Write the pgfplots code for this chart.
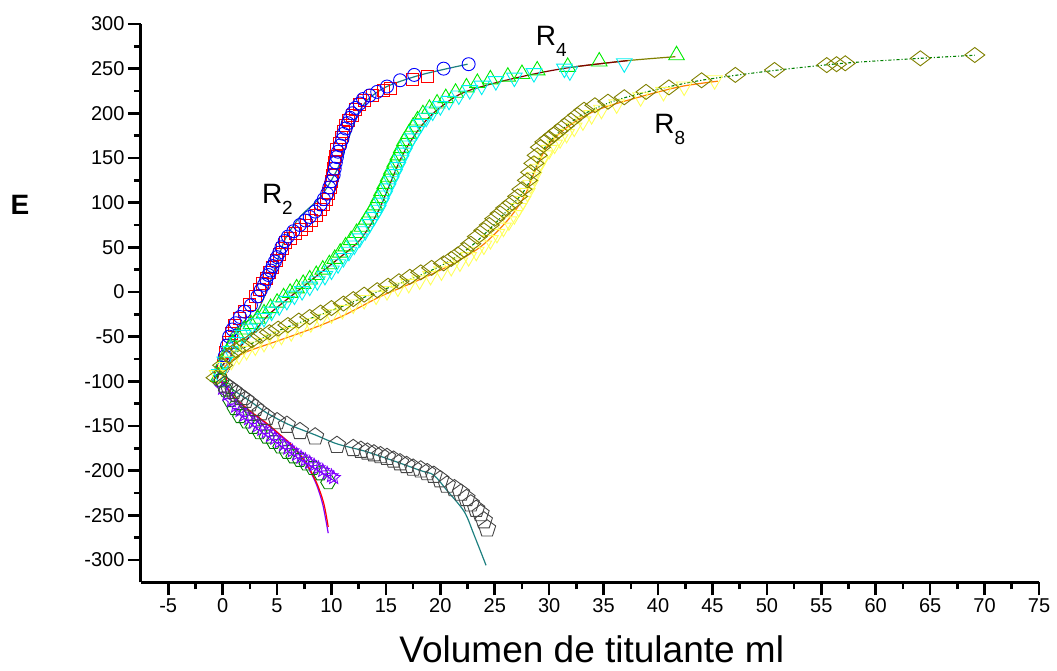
\documentclass[border=0pt]{standalone}
\usepackage{fontspec}
\setmainfont{Liberation Sans}
\usepackage{pgfplots}
\pgfplotsset{compat=1.18}
\usetikzlibrary{plotmarks}

\pgfdeclareplotmark{hexa}{%
  \pgfpathmoveto{\pgfpointpolar{0}{\pgfplotmarksize}}%
  \pgfpathlineto{\pgfpointpolar{60}{\pgfplotmarksize}}%
  \pgfpathlineto{\pgfpointpolar{120}{\pgfplotmarksize}}%
  \pgfpathlineto{\pgfpointpolar{180}{\pgfplotmarksize}}%
  \pgfpathlineto{\pgfpointpolar{240}{\pgfplotmarksize}}%
  \pgfpathlineto{\pgfpointpolar{300}{\pgfplotmarksize}}%
  \pgfpathclose\pgfusepathqstroke}
\pgfdeclareplotmark{ostar}{%
  \pgfpathmoveto{\pgfpointpolar{90}{\pgfplotmarksize}}%
  \pgfpathlineto{\pgfpointpolar{126}{0.45\pgfplotmarksize}}%
  \pgfpathlineto{\pgfpointpolar{162}{\pgfplotmarksize}}%
  \pgfpathlineto{\pgfpointpolar{198}{0.45\pgfplotmarksize}}%
  \pgfpathlineto{\pgfpointpolar{234}{\pgfplotmarksize}}%
  \pgfpathlineto{\pgfpointpolar{270}{0.45\pgfplotmarksize}}%
  \pgfpathlineto{\pgfpointpolar{306}{\pgfplotmarksize}}%
  \pgfpathlineto{\pgfpointpolar{342}{0.45\pgfplotmarksize}}%
  \pgfpathlineto{\pgfpointpolar{18}{\pgfplotmarksize}}%
  \pgfpathlineto{\pgfpointpolar{54}{0.45\pgfplotmarksize}}%
  \pgfpathclose\pgfusepathqstroke}

\definecolor{cRed}{RGB}{255,0,0}
\definecolor{cBlue}{RGB}{0,0,255}
\definecolor{cTeal}{RGB}{30,128,128}
\definecolor{cGreen}{RGB}{0,235,0}
\definecolor{cCyan}{RGB}{0,240,240}
\definecolor{cDRed}{RGB}{128,0,0}
\definecolor{cOlive}{RGB}{128,128,0}
\definecolor{cYellow}{RGB}{255,255,90}
\definecolor{cOrange}{RGB}{255,128,0}
\definecolor{cDGreen}{RGB}{0,128,0}
\definecolor{cPurple}{RGB}{128,0,255}
\definecolor{cGray}{RGB}{70,70,70}

\begin{document}
\begin{tikzpicture}
\useasboundingbox (-141pt,-88.7pt) rectangle (916pt,582.3pt);
\begin{axis}[
  scale only axis, width=898pt, height=558.3pt,
  at={(0,0)}, anchor=south west,
  xmin=-7.5, xmax=75, ymin=-325, ymax=300,
  axis x line*=bottom, axis y line*=left,
  xtick={-5,0,...,75}, ytick={-300,-250,...,300},
  minor x tick num=1, minor y tick num=1,
  tick align=outside,
  major tick length=13pt, minor tick length=7pt,
  axis line style={line width=3pt, black},
  every outer x axis line/.append style={line width=3pt},
  every outer y axis line/.append style={line width=3pt},
  xtick style={line width=2.6pt, black},
  ytick style={line width=2.6pt, black},
  /pgf/number format/assume math mode=true,
  xticklabel={\fontsize{20}{24}\selectfont\pgfmathprintnumber{\tick}},
  yticklabel={\fontsize{20}{24}\selectfont\pgfmathprintnumber{\tick}},
  clip=false,
  mark options={solid},
]
% ---------- R2 ----------
\addplot[only marks, color=cRed, mark=square, mark size=6pt, line width=0.9pt] coordinates {
(-0.2,-95) (0.1,-80) (0.3,-68) (0.5,-56) (0.8,-46) (1.1,-38) (1.5,-30) (2.0,-22) (2.5,-14) (3.0,-5)
(3.4,3) (3.7,9) (4.0,15) (4.3,22) (4.6,28) (4.9,35) (5.2,42) (5.5,49) (5.8,55) (6.2,60)
(6.7,65) (7.2,70) (7.7,75) (8.2,80) (8.6,86) (9.0,92) (9.3,98) (9.5,104) (9.7,110) (9.9,117)
(10.0,124) (10.1,131) (10.2,138) (10.3,145) (10.4,152) (10.5,159) (10.7,166) (10.9,173) (11.1,180) (11.3,186)
(11.6,192) (11.9,198) (12.2,204) (12.6,210) (13.0,214) (13.8,220) (14.8,226) (15.4,228) (17.4,238) (18.8,241)
};
\addplot[only marks, color=cBlue, mark=o, mark size=6.5pt, line width=0.9pt] coordinates {
(-0.3,-99) (0.0,-85) (0.2,-72) (0.4,-60) (0.6,-50) (0.9,-42) (1.2,-35) (1.6,-28) (2.0,-22) (2.6,-15)
(3.2,-5) (3.5,2) (3.8,8) (4.0,14) (4.2,19) (4.4,24) (4.6,29) (4.8,34) (5.0,39) (5.2,44)
(5.4,50) (5.7,57) (6.0,62) (6.5,68) (7.1,75) (7.6,80) (8.0,84) (8.5,90) (9.0,98) (9.3,104)
(9.6,110) (9.8,117) (10.0,124) (10.2,131) (10.3,138) (10.4,145) (10.5,151) (10.6,157) (10.8,164) (11.0,171)
(11.1,177) (11.3,183) (11.5,189) (11.7,195) (11.9,200) (12.2,206) (12.6,211)
(12.9,216) (13.5,220) (14.2,224) (15.1,230) (16.3,237) (17.6,243) (20.3,250) (22.6,255)
};
\addplot[color=cTeal, line width=1.2pt, smooth] coordinates {
(-0.5,-98) (0.2,-65) (1.0,-43) (2.8,-28) (3.7,-9) (4.65,21) (5.7,58) (7.1,84) (9.0,106.6)
(10.5,136.5) (11.4,166) (12.3,196) (13.3,215) (15.1,230) (18.2,243) (22.5,255)
};
% ---------- R4 ----------
\addplot[only marks, color=cGreen, mark=triangle, mark size=9pt, line width=0.9pt] coordinates {
(-0.4,-95) (0.0,-80) (0.4,-68) (0.9,-58) (1.4,-50) (2.0,-42) (2.6,-36) (3.2,-30) (3.8,-24) (4.4,-18)
(5.0,-12) (5.6,-6) (6.2,-1) (6.8,4) (7.4,9) (8.0,14) (8.6,19) (9.2,25) (9.8,31) (10.3,37)
(10.8,44) (11.3,51) (11.8,58) (12.3,66) (12.8,73) (13.2,81) (13.6,89) (14.0,97) (14.3,105) (14.6,113)
(14.9,121) (15.2,129) (15.5,137) (15.8,145) (16.1,153) (16.4,161) (16.7,169) (17.1,177) (17.5,185) (17.9,192)
(18.4,199) (19.0,205) (19.7,211) (20.5,217) (21.4,223) (22.4,229) (23.4,234) (24.6,238) (26.2,241) (27.5,244)
(28.9,248) (31.7,252) (34.6,258) (41.7,265)
};
\addplot[only marks, color=cCyan, mark=triangle, mark size=9pt, line width=0.9pt, mark options={rotate=180}] coordinates {
(-0.3,-92) (0.2,-78) (0.7,-66) (1.3,-56) (1.9,-48) (2.5,-41) (3.1,-35) (3.8,-29) (4.5,-22) (5.2,-16)
(5.9,-10) (6.6,-4) (7.3,1) (8.0,6) (8.7,12) (9.4,18) (10.0,24) (10.6,31) (11.1,38) (11.6,45)
(12.1,52) (12.6,60) (13.1,68) (13.5,76) (13.9,84) (14.3,92) (14.6,100) (14.9,108) (15.2,116) (15.5,124)
(15.8,132) (16.1,140) (16.4,148) (16.7,156) (17.0,164) (17.4,172) (17.8,180) (18.2,188) (18.7,195) (19.3,202)
(20.0,208) (20.8,214) (21.7,220) (22.7,226) (23.8,231) (25.1,236) (26.8,240) (28.6,245) (31.4,250) (31.9,247)
(36.9,256)
};
\addplot[color=cOlive, line width=1.2pt, smooth] coordinates {
(32.3,252) (37.2,259) (41.6,263.4)
};
\addplot[color=cDRed, line width=1.2pt, smooth] coordinates {
(-0.5,-98) (0.0,-82) (1.3,-65) (2.8,-46) (4.35,-24) (7.4,6) (10.5,36) (12.6,58) (14.2,88) (15.4,121.6)
(16.6,155) (18.2,185) (19.7,203.7) (21.9,222) (24.9,233.6) (28.9,244.8) (32.3,252) (37.2,259)
};
% ---------- R8 ----------
\addplot[only marks, color=cYellow, mark=triangle, mark size=9pt, line width=0.9pt, mark options={rotate=180}] coordinates {
(-0.5,-93) (0.2,-84) (0.8,-77) (1.5,-71) (2.2,-66) (3.0,-61) (3.8,-57) (4.6,-53) (5.4,-49) (6.3,-45)
(7.2,-40) (8.1,-35) (9.0,-30) (10.0,-25) (11.0,-20) (12.0,-14) (13.0,-9) (14.1,-4) (15.1,1) (16.1,5)
(17.1,9) (18.1,13) (19.1,18) (20.1,23) (21.0,28) (21.8,33) (22.6,39) (23.3,45) (24.0,52) (24.6,58)
(25.2,65) (25.8,72) (26.3,79) (26.8,86) (27.2,94) (27.6,102) (28.0,111) (28.3,120) (28.6,129) (28.9,138)
(29.2,146) (29.6,153) (30.0,159) (30.5,165) (31.0,171) (31.6,177) (32.3,184) (33.1,191) (33.9,198) (34.8,204)
(36.2,210) (38.4,218) (40.5,224) (42.4,230) (45.2,237)
};
\addplot[only marks, color=cOlive, mark=diamond, mark size=10pt, line width=0.9pt, mark options={rotate=90}] coordinates {
(-0.6,-96) (0.0,-82) (0.6,-72) (1.2,-65) (1.9,-60) (2.7,-54) (3.5,-49) (4.3,-45) (5.1,-41) (6.0,-37)
(7.0,-32) (8.0,-28) (9.0,-23) (10.0,-18) (11.1,-13) (12.0,-8) (13.0,-3) (14.2,2) (15.2,7) (16.2,12)
(17.2,17) (18.2,22) (19.2,27) (20.3,32) (21.0,37) (21.6,42) (22.2,47) (22.8,54) (23.4,62) (24.0,69)
(24.5,75) (25.0,82) (25.5,88) (26.0,94) (26.6,100) (27.1,107) (27.5,115) (28.0,125) (28.3,134) (28.6,144)
(28.9,153) (29.2,162) (29.6,168) (30.0,172) (30.4,176) (30.8,180) (31.4,186) (32.0,192) (32.6,198) (33.2,204)
(34.2,209) (35.4,213) (36.9,218) (38.9,224) (41.0,229) (44.0,237) (47.1,243) (50.7,248.5) (55.5,254) (56.4,255)
(57.2,256) (64.1,261.6) (69.1,265.3)
};
\addplot[color=cOrange, line width=1.2pt, smooth] coordinates {
(-0.5,-95) (0.5,-80) (2.0,-68) (5.0,-55) (8.0,-42) (11.0,-27) (14.5,-5) (17.0,8) (20.6,28) (23.7,50.6)
(26.2,80.5) (27.7,106.6) (28.6,132.8) (29.8,162.6) (31.7,185) (34.4,203.7) (38.4,218.6) (42.1,230) (45.5,236)
};
\addplot[color=cDGreen, line width=1.1pt, dash dot, smooth] coordinates {
(-0.5,-95) (0.5,-75) (2.0,-62) (5.0,-44) (8.0,-30) (11.0,-16) (14.0,-1) (17.0,13) (20.0,29) (22.5,48)
(24.5,70) (26.5,96) (27.8,115) (28.6,135) (29.5,160) (31.0,180) (33.0,198) (36.0,214) (40.0,227) (44.0,237)
(50.0,247) (57.0,256) (64.0,261.5) (69.1,265)
};
% ---------- lower branch ----------
\addplot[only marks, color=cDGreen, mark=hexa, mark size=7.5pt, line width=0.9pt] coordinates {
(-0.1,-99) (0.3,-110) (0.7,-121) (1.1,-130) (1.6,-139) (2.2,-145) (2.8,-151) (3.4,-157) (4.05,-162) (4.7,-168)
(5.3,-173) (5.9,-179) (6.5,-184) (7.1,-188) (7.7,-192) (8.3,-197) (9.0,-203) (9.7,-213)
};
\addplot[only marks, color=cPurple, mark=ostar, mark size=7pt, line width=0.9pt] coordinates {
(0.0,-108) (0.4,-115) (0.8,-122) (1.2,-128) (1.6,-133) (2.0,-138) (2.4,-142) (2.8,-146) (3.2,-150) (3.6,-154)
(4.0,-157) (4.4,-161) (4.8,-164) (5.2,-168) (5.6,-171) (6.0,-175) (6.4,-178) (6.8,-182) (7.2,-185) (7.6,-188)
(8.0,-191) (8.4,-194) (8.8,-197) (9.2,-200) (9.6,-203) (10.0,-206) (10.2,-208)
};
\addplot[color=cPurple, line width=1.2pt, smooth] coordinates {
(-0.3,-98) (0.3,-106) (1.0,-118) (2.5,-134) (4.05,-148) (5.3,-161) (6.5,-174) (7.7,-193) (8.6,-215) (9.2,-238) (9.7,-270)
};
\addplot[color=cRed, line width=1.2pt, smooth] coordinates {
(-0.3,-98) (0.3,-105) (1.0,-117) (2.5,-133) (4.05,-147) (5.3,-160) (6.5,-173) (7.7,-192) (8.65,-214) (9.3,-237) (9.7,-263)
};
\addplot[only marks, color=cGray, mark=pentagon, mark size=9pt, line width=0.9pt] coordinates {
(0.2,-104) (0.6,-108) (1.0,-111) (1.3,-114) (1.7,-118) (2.1,-121) (2.5,-125) (3.0,-130) (3.5,-135) (4.05,-140)
(5.0,-145) (5.9,-149) (7.1,-156) (8.5,-162) (10.5,-171.5) (12.0,-175) (12.7,-177) (13.3,-179) (13.9,-181) (14.5,-183)
(15.1,-185) (15.7,-188) (16.3,-191) (16.9,-194) (17.5,-197) (18.2,-199) (18.8,-202) (19.4,-205) (20.0,-210) (20.6,-216)
(21.3,-220) (21.9,-225) (22.4,-231) (22.8,-237) (23.3,-243) (23.7,-248) (24.0,-256) (24.3,-265)
};
\addplot[color=cTeal, line width=1.2pt, smooth] coordinates {
(-0.2,-100) (1.0,-110) (2.5,-122) (4.0,-135) (6.0,-148) (8.5,-160) (10.5,-170) (13.0,-178) (15.7,-189) (18.2,-200)
(19.4,-205) (20.6,-222) (22.2,-246) (23.1,-272) (24.2,-306)
};
% ---------- annotations ----------
\node[anchor=base west, inner sep=0pt, font=\fontsize{28}{32}\selectfont] at (axis cs:3.6,99.6) {R\raisebox{-11pt}{\fontsize{19}{22}\selectfont 2}};
\node[anchor=base west, inner sep=0pt, font=\fontsize{28}{32}\selectfont] at (axis cs:28.76,275.7) {R\raisebox{-11pt}{\fontsize{19}{22}\selectfont 4}};
\node[anchor=base west, inner sep=0pt, font=\fontsize{28}{32}\selectfont] at (axis cs:39.65,177.6) {R\raisebox{-11pt}{\fontsize{19}{22}\selectfont 8}};
\node[inner sep=0pt, font=\fontsize{28}{32}\selectfont\bfseries] at (rel axis cs:-0.1347,0.676) {E};
\node[anchor=base, inner sep=0pt, font=\fontsize{37}{42}\selectfont] at (rel axis cs:0.502,-0.1435) {Volumen de titulante ml};
\end{axis}
\end{tikzpicture}
\end{document}
